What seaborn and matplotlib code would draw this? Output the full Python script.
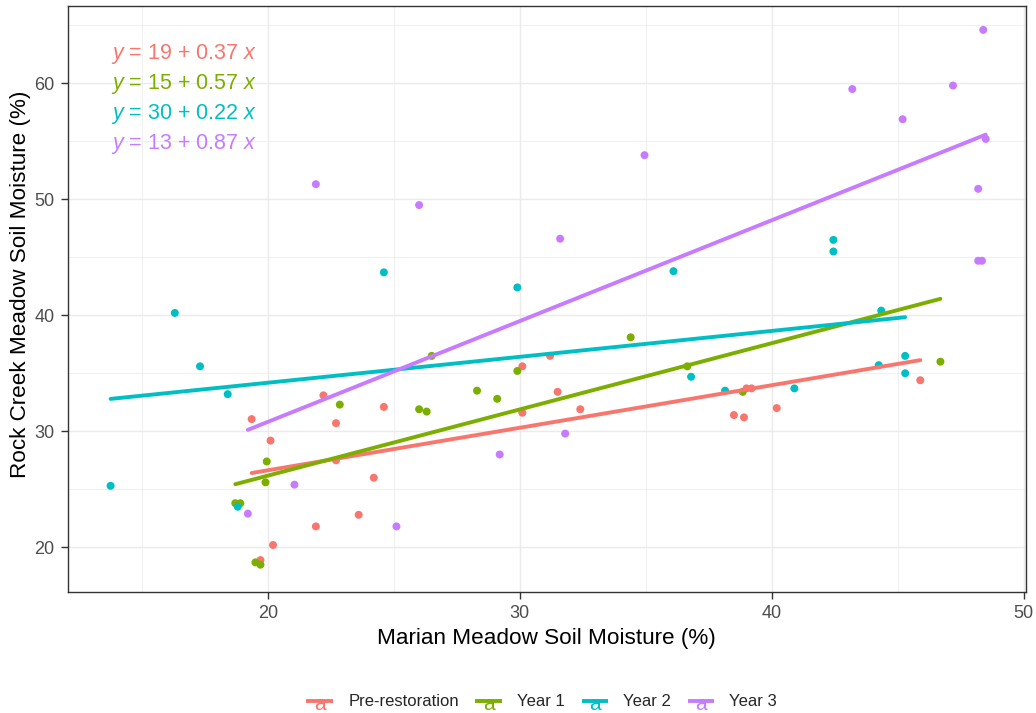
import numpy as np
import pandas as pd
import matplotlib
matplotlib.use("Agg")
import matplotlib.pyplot as plt
import seaborn as sns
from matplotlib.legend_handler import HandlerBase
from matplotlib.lines import Line2D
from matplotlib.text import Text
from matplotlib.ticker import MultipleLocator

# ---------------- data ----------------
groups = ["Pre-restoration", "Year 1", "Year 2", "Year 3"]
colors = ["#F8766D", "#7CAE00", "#00BFC4", "#C77CFF"]

pre_x = [19.35, 22.2, 20.1, 22.7, 22.7, 24.6, 24.2, 23.6, 21.9, 20.2, 19.7,
         30.1, 30.1, 31.2, 31.5, 32.4, 38.5, 38.9, 39.0, 39.2, 40.2, 45.9]
pre_y = [31.05, 33.1, 29.2, 30.7, 27.5, 32.1, 26.0, 22.8, 21.8, 20.2, 18.9,
         35.6, 31.6, 36.5, 33.4, 31.9, 31.4, 31.2, 33.7, 33.7, 32.0, 34.4]

y1_x = [18.7, 18.9, 19.95, 19.9, 19.5, 19.7, 22.85, 26.5, 29.9, 28.3, 29.1,
        26.0, 26.3, 36.65, 34.4, 38.85, 46.7]
y1_y = [23.8, 23.8, 27.4, 25.6, 18.7, 18.5, 32.3, 36.5, 35.2, 33.5, 32.8,
        31.9, 31.7, 35.6, 38.1, 33.4, 36.0]

y2_x = [13.75, 16.3, 24.6, 17.3, 18.4, 18.8, 29.9, 36.1, 36.8, 42.45, 42.45,
        44.35, 45.3, 45.3, 44.25, 40.9, 38.15]
y2_y = [25.3, 40.2, 43.7, 35.6, 33.2, 23.5, 42.4, 43.8, 34.7, 46.5, 45.5,
        40.4, 36.5, 35.0, 35.7, 33.7, 33.5]

y3_x = [21.9, 26.0, 31.6, 34.95, 19.2, 21.05, 25.1, 29.2, 31.8, 43.2, 47.2,
        48.4, 45.2, 48.5, 48.2, 48.2, 48.35]
y3_y = [51.3, 49.5, 46.6, 53.8, 22.9, 25.4, 21.8, 28.0, 29.8, 59.5, 59.8,
        64.6, 56.9, 55.2, 50.9, 44.7, 44.7]

xs = [pre_x, y1_x, y2_x, y3_x]
ys = [pre_y, y1_y, y2_y, y3_y]

x_label = "Marian Meadow Soil Moisture (%)"
y_label = "Rock Creek Meadow Soil Moisture (%)"
x_ticks = [20, 30, 40, 50]
y_ticks = [20, 30, 40, 50, 60]

df = pd.concat(
    [pd.DataFrame({"marian": x, "rock": y, "period": g}) for x, y, g in zip(xs, ys, groups)],
    ignore_index=True,
)

# ---------------- style ----------------
sns.set_style("white")
plt.rcParams["font.family"] = ["Liberation Sans", "DejaVu Sans"]
plt.rcParams["mathtext.fontset"] = "custom"
plt.rcParams["mathtext.rm"] = "Liberation Sans"
plt.rcParams["mathtext.it"] = "Liberation Sans:italic"

fig = plt.figure(figsize=(10.36, 7.13), dpi=100)
ax = fig.add_axes([0.0652, 0.1704, 0.9247, 0.8212])

sns.scatterplot(data=df, x="marian", y="rock", hue="period", hue_order=groups,
                palette=colors, s=33, linewidth=0, legend=False, ax=ax, zorder=2)

for g, c in zip(groups, colors):
    sub = df[df["period"] == g]
    sns.regplot(data=sub, x="marian", y="rock", scatter=False, ci=None, color=c,
                truncate=True, line_kws=dict(linewidth=2.8, zorder=3), ax=ax)

# equations
for i, (g, c) in enumerate(zip(groups, colors)):
    sub = df[df["period"] == g]
    b, a = np.polyfit(sub["marian"], sub["rock"], 1)
    txt = r"$\mathit{y}$ = " + f"{a:.2g} + {b:.2g} " + r"$\mathit{x}$"
    ax.text(0.0454, 0.918 - i * 0.0515, txt, transform=ax.transAxes, color=c,
            fontsize=15.5, ha="left", va="center", zorder=4)

ax.set_xlim(12.04, 50.08)
ax.set_ylim(16.19, 66.66)
ax.set_xticks(x_ticks)
ax.set_yticks(y_ticks)
ax.xaxis.set_minor_locator(MultipleLocator(5))
ax.yaxis.set_minor_locator(MultipleLocator(5))
ax.grid(which="major", color="#EBEBEB", linewidth=1.05)
ax.grid(which="minor", color="#EBEBEB", linewidth=0.55)
ax.set_axisbelow(True)
ax.tick_params(which="major", length=4.8, width=1.0, color="#333333",
               labelcolor="#4D4D4D", labelsize=13, bottom=True, left=True)
ax.tick_params(axis="x", which="major", pad=5.2)
ax.tick_params(axis="y", which="major", pad=4.5)
ax.tick_params(which="minor", length=0, bottom=False, left=False)
for sp in ax.spines.values():
    sp.set_color("#333333")
    sp.set_linewidth(1.0)

ax.set_xlabel(x_label, fontsize=16.2, color="black", va="center")
ax.set_ylabel(y_label, fontsize=16.2, color="black", va="center")
ax.xaxis.set_label_coords(0.5, -0.0795)
ax.yaxis.set_label_coords(-0.0496, 0.525)


class LineWithA(HandlerBase):
    def create_artists(self, legend, orig_handle, xdescent, ydescent, width,
                       height, fontsize, trans):
        c = orig_handle.get_color()
        yc = height / 2 - ydescent
        line = Line2D([-xdescent, -xdescent + width], [yc, yc], color=c,
                      linewidth=2.8, solid_capstyle="butt")
        line.set_transform(trans)
        t = Text(-xdescent + width / 2, yc - fontsize * 0.25, "a", color=c,
                 fontsize=fontsize * 1.25, ha="center", va="center")
        t.set_transform(trans)
        return [line, t]


handles = [Line2D([0], [0], color=c) for c in colors]
fig.legend(handles, groups, loc="center", bbox_to_anchor=(0.523, 0.0155),
           ncol=4, frameon=False, fontsize=12, handlelength=1.6,
           handletextpad=0.9, columnspacing=1.0,
           handler_map={Line2D: LineWithA()})

fig.savefig("out.png", dpi=100)
